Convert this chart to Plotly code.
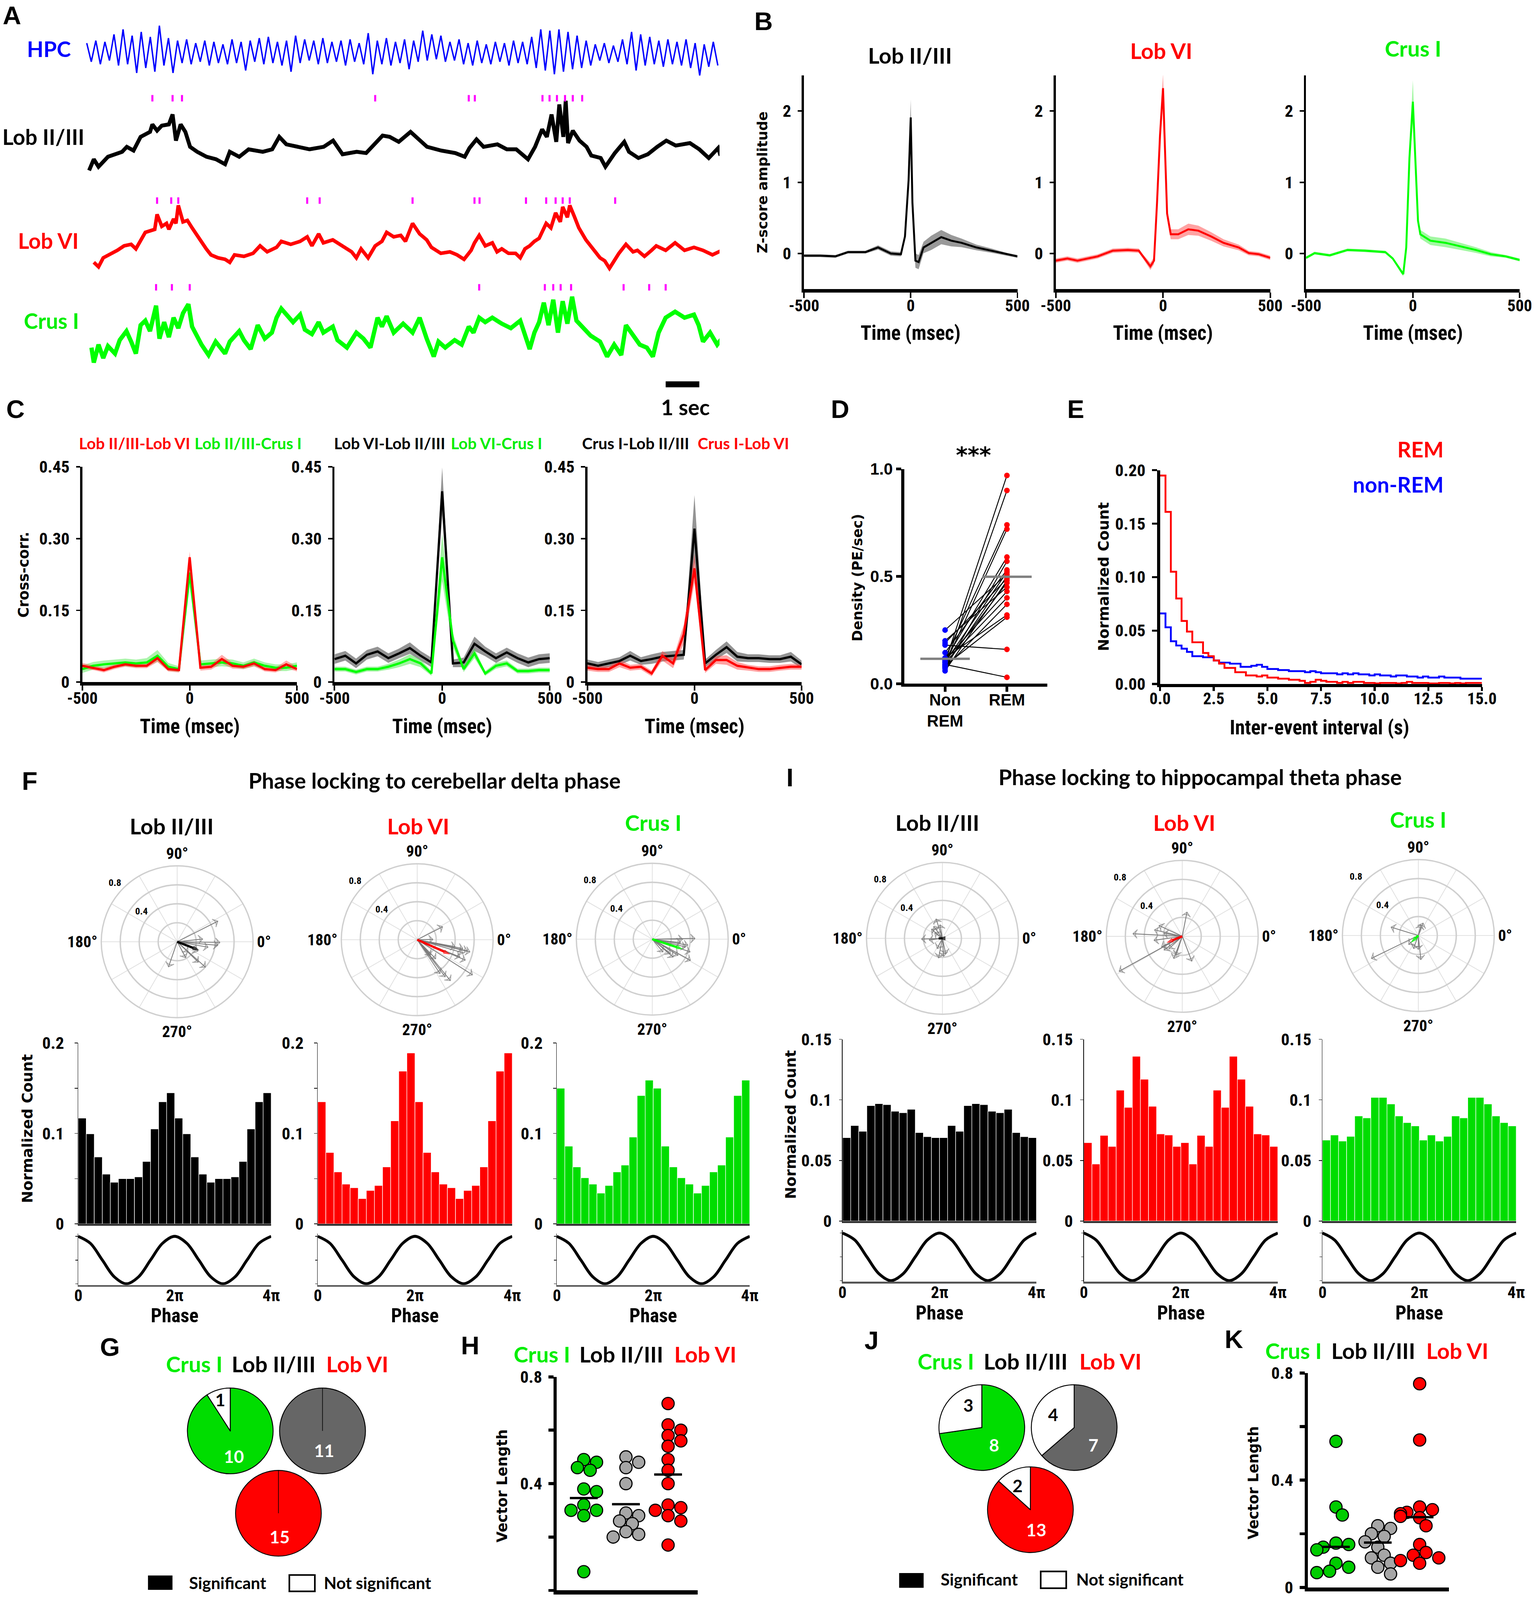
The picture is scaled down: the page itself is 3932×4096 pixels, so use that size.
import numpy as np
import plotly.graph_objects as go

# ====================== DATA ======================
# ---- A: example LFP traces (time in s, amplitude in arbitrary units) ----
HPC_PEAKS = [0.8,1.0,0.9,1.5,1.9,1.4,1.7,1.3,2.2,1.2,1.0,1.1,0.8,1.0,0.9,0.7,1.1,0.9,1.0,1.2,
             1.3,0.9,1.0,1.4,1.1,1.0,1.2,0.9,1.0,1.1,0.8,1.6,1.0,1.2,0.9,1.1,1.0,1.8,1.5,1.4,
             0.9,1.1,0.8,1.0,0.7,0.9,0.8,1.0,0.9,1.3,1.9,1.8,1.9,1.7,1.4,1.0,0.7,0.8,0.6,1.1,
             1.7,1.5,1.3,1.0,1.1,0.9,1.1,0.8,0.7,0.9]
HPC_TROUGHS = [-0.7,-0.9,-0.6,-1.0,-0.9,-1.6,-1.2,-1.5,-1.0,-1.6,-0.8,-0.9,-0.7,-1.0,-0.8,-0.9,-0.8,-1.4,-0.7,-0.9,
               -0.8,-1.0,-1.5,-0.8,-0.6,-0.9,-0.8,-0.7,-1.0,-0.7,-0.9,-1.7,-0.9,-1.0,-0.8,-1.3,-0.7,-0.6,-0.5,-0.7,
               -0.6,-0.9,-1.0,-0.8,-0.9,-0.7,-1.0,-0.8,-0.9,-1.2,-1.4,-1.7,-1.5,-1.3,-1.2,-1.0,-0.6,-0.8,-0.7,-0.9,
               -1.4,-1.0,-0.9,-1.1,-0.9,-1.0,-1.2,-1.8,-1.1,-1.0]
HPC_SECONDS = 18.75

LOB23_T = [0.07,0.21,0.35,0.63,1.05,1.19,1.39,1.60,1.88,1.95,
           2.09,2.23,2.44,2.55,2.65,2.79,2.93,3.07,3.28,3.56,
           3.84,4.11,4.25,4.53,4.81,5.23,5.51,5.72,5.93,6.35,
           6.62,7.04,7.32,7.60,8.02,8.30,8.58,8.79,9.00,9.27,
           9.62,9.83,10.11,10.53,10.95,11.23,11.37,11.58,11.79,12.20,
           12.48,12.76,13.11,13.32,13.53,13.67,13.81,13.95,14.04,14.16,
           14.23,14.30,14.44,14.64,14.85,14.99,15.27,15.41,15.69,15.97,
           16.11,16.39,16.67,16.95,17.22,17.50,17.92,18.20,18.48,18.76,18.83]
LOB23_V = [-1.7,-0.8,-1.4,-0.6,-0.2,0.2,-0.1,1.0,1.4,2.0,
           1.5,1.9,2.0,2.8,0.7,2.0,1.4,0.2,-0.2,-0.6,
           -0.8,-1.2,-0.2,-0.6,0.0,-0.2,0.0,1.0,0.4,0.2,
           0.0,0.2,0.7,-0.4,-0.2,-0.3,0.5,1.1,1.0,0.6,
           1.4,0.9,0.2,-0.1,-0.3,-0.6,0.1,0.8,0.2,0.4,
           0.0,0.0,-0.8,0.2,1.6,1.0,2.8,0.6,3.6,1.0,
           3.9,0.5,1.5,0.7,0.2,-0.5,-0.7,-1.4,-0.3,0.6,
           -0.2,-0.7,-0.4,0.2,0.7,0.3,0.5,0.0,-0.7,0.1,-0.5]

LOBVI_T = [0.21,0.35,0.49,0.77,0.91,1.11,1.32,1.46,1.60,1.74,
           2.02,2.09,2.23,2.37,2.44,2.58,2.65,2.72,2.86,2.99,
           3.13,3.27,3.41,3.55,3.69,3.90,4.11,4.25,4.39,4.67,
           4.94,5.15,5.36,5.64,5.78,6.06,6.34,6.55,6.69,6.89,
           7.03,7.31,7.59,7.87,8.01,8.15,8.36,8.57,8.77,8.91,
           9.12,9.33,9.47,9.68,9.89,10.10,10.24,10.52,10.79,11.00,
           11.21,11.42,11.52,11.66,11.84,12.05,12.19,12.33,12.53,12.74,
           12.88,13.02,13.16,13.30,13.44,13.65,13.79,13.93,14.07,14.14,
           14.28,14.35,14.48,14.62,14.83,15.04,15.25,15.39,15.53,15.67,
           15.81,16.02,16.23,16.36,16.57,16.78,16.92,17.20,17.48,17.76,
           18.04,18.31,18.59,18.87]
LOBVI_V = [-0.8,-1.1,-0.5,-0.2,0.0,0.3,0.4,0.1,0.7,1.2,
           1.4,2.4,1.6,1.8,1.4,2.1,1.8,3.0,1.9,2.0,
           1.5,1.0,0.5,0.1,-0.3,-0.5,-0.6,-0.8,-0.3,-0.4,
           -0.2,0.3,-0.1,0.2,0.6,0.4,0.6,0.9,0.3,1.1,
           0.5,0.7,0.3,-0.1,-0.5,0.1,-0.5,0.3,0.6,1.2,
           0.9,1.0,0.6,1.8,1.1,0.7,0.2,-0.2,-0.1,-0.3,
           -0.6,0.0,0.5,1.0,0.3,0.5,-0.1,0.1,-0.2,-0.2,
           -0.5,0.1,0.3,0.6,0.8,1.8,1.5,2.5,1.9,2.9,
           2.2,3.0,2.3,1.5,0.7,0.1,-0.5,-0.7,-1.2,-0.7,
           -0.2,0.4,-0.1,0.0,-0.4,0.0,0.3,0.0,0.5,0.0,
           0.2,0.0,-0.3,0.0]

CRUS_T = [0.14,0.21,0.35,0.49,0.63,0.84,0.98,1.18,1.32,1.46,
          1.60,1.74,1.88,2.06,2.16,2.30,2.44,2.58,2.72,2.86,
          3.02,3.13,3.27,3.41,3.62,3.83,3.97,4.11,4.25,4.53,
          4.67,4.87,5.08,5.29,5.50,5.64,5.78,5.92,6.13,6.34,
          6.48,6.69,6.89,7.03,7.31,7.45,7.73,8.01,8.22,8.43,
          8.64,8.77,8.91,9.12,9.40,9.68,9.89,10.10,10.31,10.45,
          10.65,10.93,11.14,11.35,11.49,11.66,11.84,12.05,12.33,12.60,
          12.88,13.16,13.30,13.44,13.58,13.72,13.86,14.00,14.14,14.28,
          14.42,14.55,14.76,14.97,15.25,15.46,15.67,15.88,16.02,16.23,
          16.43,16.64,16.82,16.99,17.20,17.48,17.76,18.04,18.18,18.31,
          18.52,18.73,18.87]
CRUS_V = [-1.0,-2.0,-0.8,-1.7,-0.9,-1.4,-0.5,0.1,-0.6,-1.4,
          0.5,0.8,0.1,1.8,-0.4,0.7,-0.3,1.0,0.3,1.3,
          1.9,0.4,-0.2,-0.8,-1.5,-0.6,-1.0,-1.4,-0.6,0.1,
          -0.5,-1.1,0.5,-0.4,0.0,1.0,1.6,1.2,0.7,1.2,
          0.2,-0.1,0.7,0.0,0.4,-0.5,-1.0,0.0,-0.4,-1.0,
          1.0,0.4,1.1,0.0,0.6,0.0,1.0,-0.4,-1.6,-0.6,
          -1.0,-0.5,-0.8,0.4,0.0,1.0,0.7,1.0,0.6,0.3,
          0.8,-1.1,0.0,0.7,2.0,0.5,2.2,0.0,2.1,0.6,
          2.4,0.8,0.3,-0.2,-0.6,-1.6,-0.8,-1.5,0.5,-0.2,
          -0.8,-1.0,-1.6,0.0,1.0,1.4,1.0,1.2,0.5,-0.6,
          0.0,-0.8,-0.4]

LOB23_EVENTS = [1.95,2.55,2.83,8.57,11.35,11.53,13.54,13.75,13.97,14.21,14.44,14.72]
LOBVI_EVENTS = [2.09,2.51,2.72,6.55,6.92,9.68,11.52,11.67,13.05,13.65,13.93,14.14,14.35,15.70]
CRUS_EVENTS = [2.06,2.53,3.06,11.66,13.61,13.86,14.08,14.39,15.95,16.71,17.20]

# ---- B: event-triggered average (ms, z-score) ----
B_LOB23_T = [-500,-424,-353,-294,-212,-153,-93,-46,-27,-10,0,8,22,37,60,96,143,190,238,308,379,450,500]
B_LOB23_M = [-0.03,-0.03,-0.04,0.02,0.02,0.085,0.0,-0.01,0.24,1.03,1.91,0.71,-0.10,-0.12,0.085,0.15,0.23,0.18,0.15,0.085,0.04,-0.01,-0.04]
B_LOB23_E = [0.02,0.02,0.02,0.02,0.02,0.03,0.03,0.03,0.05,0.10,0.25,0.10,0.10,0.10,0.08,0.10,0.10,0.08,0.06,0.04,0.03,0.02,0.02]
B_LOBVI_T = [-500,-446,-399,-305,-234,-164,-113,-94,-59,-42,-28,-14,0,7,19,36,71,118,165,224,282,353,400,447,500]
B_LOBVI_M = [-0.10,-0.07,-0.10,-0.04,0.04,0.05,0.04,-0.04,-0.18,-0.10,0.71,1.66,2.32,1.66,0.56,0.27,0.27,0.34,0.32,0.24,0.15,0.085,0.006,-0.01,-0.06]
B_LOBVI_E = [0.03,0.03,0.03,0.03,0.03,0.03,0.03,0.03,0.05,0.05,0.10,0.15,0.20,0.12,0.08,0.07,0.07,0.08,0.07,0.06,0.05,0.04,0.03,0.03,0.03]
B_CRUS_T = [-500,-460,-389,-306,-224,-129,-94,-59,-45,-31,-16,0,12,24,35,82,153,224,294,365,435,500]
B_CRUS_M = [-0.06,0.006,-0.025,0.05,0.04,0.02,-0.07,-0.23,-0.29,0.085,1.34,2.13,1.34,0.46,0.27,0.18,0.15,0.10,0.05,-0.01,-0.04,-0.09]
B_CRUS_E = [0.02,0.02,0.02,0.02,0.02,0.02,0.02,0.03,0.03,0.05,0.10,0.30,0.10,0.07,0.06,0.06,0.06,0.05,0.04,0.03,0.02,0.02]

# ---- C: cross-correlations ----
C_LAGS = [-500,-450,-400,-350,-300,-250,-200,-150,-100,-50,0,50,100,150,200,250,300,350,400,450,500]
C1_RED = [0.034,0.030,0.025,0.032,0.037,0.034,0.034,0.050,0.027,0.025,0.261,0.030,0.032,0.048,0.034,0.032,0.039,0.027,0.025,0.037,0.027]
C1_RED_E = [0.006,0.005,0.005,0.005,0.005,0.005,0.005,0.008,0.005,0.005,0.012,0.006,0.006,0.009,0.006,0.005,0.006,0.005,0.005,0.008,0.005]
C1_GRN = [0.027,0.034,0.037,0.039,0.041,0.039,0.041,0.055,0.032,0.027,0.229,0.037,0.039,0.041,0.039,0.034,0.041,0.034,0.030,0.030,0.034]
C1_GRN_E = [0.008,0.008,0.008,0.008,0.008,0.008,0.009,0.012,0.008,0.006,0.030,0.008,0.008,0.008,0.008,0.007,0.008,0.007,0.007,0.007,0.007]
C2_BLK = [0.048,0.055,0.039,0.057,0.064,0.050,0.060,0.071,0.055,0.041,0.399,0.039,0.041,0.080,0.064,0.050,0.062,0.050,0.041,0.048,0.050]
C2_BLK_E = [0.010,0.010,0.010,0.010,0.010,0.010,0.010,0.012,0.010,0.010,0.050,0.008,0.010,0.015,0.010,0.010,0.010,0.010,0.010,0.010,0.010]
C2_GRN = [0.027,0.027,0.021,0.027,0.027,0.032,0.039,0.048,0.039,0.018,0.261,0.087,0.027,0.060,0.018,0.034,0.039,0.023,0.023,0.025,0.025]
C2_GRN_E = [0.005,0.005,0.005,0.005,0.005,0.006,0.008,0.010,0.008,0.005,0.050,0.015,0.006,0.010,0.005,0.006,0.006,0.005,0.005,0.005,0.005]
C3_BLK = [0.039,0.034,0.039,0.044,0.055,0.044,0.048,0.053,0.055,0.057,0.321,0.039,0.057,0.073,0.053,0.050,0.050,0.048,0.048,0.053,0.037]
C3_BLK_E = [0.008,0.008,0.008,0.008,0.010,0.008,0.010,0.010,0.010,0.010,0.070,0.008,0.010,0.012,0.010,0.008,0.008,0.008,0.008,0.010,0.008]
C3_RED = [0.030,0.027,0.027,0.039,0.030,0.032,0.018,0.055,0.039,0.100,0.238,0.025,0.046,0.046,0.034,0.030,0.027,0.027,0.030,0.032,0.032]
C3_RED_E = [0.006,0.006,0.006,0.008,0.006,0.006,0.006,0.010,0.010,0.020,0.030,0.006,0.008,0.010,0.008,0.006,0.006,0.006,0.006,0.006,0.006]

# ---- D: PE density, paired ----
D_NREM = [0.10,0.08,0.12,0.09,0.11,0.07,0.145,0.10,0.25,0.08,0.19,0.06,0.09,0.20,0.11,0.10,0.075,0.12,0.085,0.18,0.09]
D_REM = [0.97,0.90,0.74,0.72,0.59,0.57,0.53,0.52,0.51,0.50,0.49,0.48,0.47,0.45,0.43,0.40,0.37,0.32,0.31,0.16,0.03]

# ---- E: inter-event interval histograms (0.25 s bins) ----
E_BIN_WIDTH = 0.25
E_REM = [0.195,0.161,0.105,0.080,0.059,0.049,0.039,0.039,0.029,0.026,
         0.022,0.019,0.015,0.015,0.011,0.011,0.008,0.008,0.007,0.008,
         0.006,0.006,0.005,0.005,0.004,0.004,0.003,0.001,0.002,0.004,
         0.003,0.002,0.002,0.001,0.002,0.001,0.002,0.002,0.001,0.001,
         0.0005,0.001,0.001,0.001,0.0005,0.001,0.002,0.001,0.001,0.001,
         0.0005,0.0005,0.001,0.001,0.0005,0.001,0.0005,0.001,0.001,0.001]
E_NREM = [0.066,0.053,0.040,0.036,0.033,0.030,0.026,0.026,0.025,0.025,
          0.022,0.020,0.020,0.019,0.019,0.016,0.016,0.017,0.018,0.016,
          0.014,0.014,0.013,0.013,0.012,0.012,0.012,0.011,0.012,0.011,
          0.010,0.010,0.010,0.009,0.010,0.009,0.010,0.009,0.009,0.008,
          0.009,0.008,0.008,0.007,0.008,0.008,0.007,0.007,0.006,0.007,
          0.006,0.006,0.007,0.006,0.006,0.006,0.005,0.005,0.005,0.005]

# ---- F / I: phase vectors (deg, length) and phase histograms (12 bins of 30 deg) ----
F_LOB23_ANG = [26.8,6,-5,-1,-24,-42,-44,-62,-109,-43,-10]
F_LOB23_LEN = [0.48,0.27,0.43,0.45,0.24,0.40,0.31,0.19,0.28,0.155,0.33]
F_LOB23_MEAN = [-21,0.25]
F_LOBVI_ANG = [27,1,-13,-12.5,-11,-22,-23,-32.5,-51,-53,-56,-46,-10.5,-49,-16]
F_LOBVI_LEN = [0.30,0.165,0.57,0.54,0.49,0.485,0.55,0.69,0.555,0.49,0.43,0.28,0.405,0.215,0.50]
F_LOBVI_MEAN = [-24,0.38]
F_CRUS_ANG = [1,0,-9.5,-18.5,-29,-40.6,-38.5,-32,-13,-7,-50]
F_CRUS_LEN = [0.45,0.32,0.38,0.42,0.46,0.29,0.245,0.32,0.36,0.30,0.175]
F_CRUS_MEAN = [-18,0.34]

I_LOB23_ANG = [108,126,140,182,-101,-86,-117,100,-78,143,187]
I_LOB23_LEN = [0.215,0.155,0.15,0.22,0.21,0.19,0.12,0.145,0.165,0.10,0.14]
I_LOB23_MEAN = [180,0.04]
I_LOBVI_ANG = [79,177,-151,167,155,171,-111,-69,-143,-137,-172,-153,-108]
I_LOBVI_LEN = [0.26,0.52,0.76,0.30,0.27,0.195,0.25,0.28,0.24,0.19,0.30,0.245,0.21]
I_LOBVI_MEAN = [-158,0.18]
I_CRUS_ANG = [163,-154,69,-84,-110,-90,-137,77]
I_CRUS_LEN = [0.30,0.55,0.14,0.255,0.146,0.146,0.138,0.115]
I_CRUS_MEAN = [-136,0.11]

F_LOB23_HIST = [0.117,0.0996,0.074,0.055,0.046,0.050,0.050,0.052,0.069,0.105,0.135,0.145]
F_LOBVI_HIST = [0.135,0.079,0.0575,0.044,0.040,0.028,0.037,0.0425,0.063,0.114,0.169,0.189]
F_CRUS_HIST = [0.150,0.086,0.063,0.051,0.044,0.034,0.0425,0.0575,0.065,0.096,0.142,0.159]
I_LOB23_HIST = [0.0688,0.0788,0.0741,0.0953,0.0969,0.0961,0.0906,0.0894,0.0922,0.0730,0.0696,0.0688]
I_LOBVI_HIST = [0.0647,0.0471,0.0707,0.0616,0.108,0.0938,0.136,0.117,0.0947,0.0719,0.0710,0.0616]
I_CRUS_HIST = [0.0668,0.0710,0.066,0.0699,0.0867,0.0851,0.102,0.102,0.0966,0.0867,0.0812,0.0785]

SINE_REF = [1,0.71,0,-0.71,-1,-0.71,0,0.71,1,0.71,0,-0.71,-1,-0.71,0,0.71,1]
PHASE_TICKS = ['0', '2π', '4π']

# ---- G / J: significant vs not significant counts (Crus I, Lob II/III, Lob VI) ----
G_SIG = [10,11,15]
G_NS = [1,0,0]
J_SIG = [8,7,13]
J_NS = [3,4,2]

# ---- H / K: vector lengths (Crus I, Lob II/III, Lob VI) ----
H_CRUS = [0.49,0.48,0.46,0.45,0.38,0.37,0.32,0.30,0.30,0.28,0.07]
H_LOB23 = [0.50,0.48,0.46,0.40,0.29,0.28,0.26,0.25,0.22,0.21,0.20]
H_LOBVI = [0.70,0.62,0.60,0.58,0.56,0.54,0.49,0.45,0.40,0.32,0.31,0.30,0.28,0.26,0.17]
H_MEAN = [0.346,0.323,0.434]
K_CRUS = [0.545,0.30,0.27,0.165,0.16,0.15,0.14,0.09,0.075,0.06,0.055]
K_LOB23 = [0.23,0.22,0.20,0.19,0.17,0.15,0.12,0.11,0.09,0.075,0.05]
K_LOBVI = [0.76,0.55,0.30,0.29,0.28,0.275,0.265,0.26,0.23,0.16,0.13,0.12,0.11,0.10,0.09]
K_MEAN = [0.151,0.167,0.262]

# ====================== STYLE / LAYOUT HELPERS ======================
W, H = 3932, 4096
SW, SH = 1505.0, 1568.0
KF = W / SW


def px(x):
    return x / SW


def py(y):
    return 1 - y / SH


def f(s):
    return s * KF


CAL = "Lato, 'Open Sans', sans-serif"
NAR = "'Liberation Sans Narrow', 'Roboto Condensed', 'Liberation Sans', sans-serif"
ARI = "'Liberation Sans', Arial, sans-serif"
WIDE = "'DejaVu Sans', Verdana, sans-serif"

RED = '#ff0000'
LGREEN = '#00ff00'
TGREEN = '#00ee00'
DGREEN = '#00dd00'
BLUE = '#0000ff'
MAG = '#ff00ff'
ARROW_GREY = '#7a7a7a'
GRID = '#cfcfcf'

TICKFONT = dict(family=NAR, size=f(16.5), color='black', weight='bold')
XTICKFONT = dict(family=NAR, size=f(16), color='black', weight='bold')
XUP = -int(round(f(6)))      # pull x tick labels closer to the axis
YOUT = int(round(f(3)))      # push y tick labels a little further out

fig = go.Figure()
layout = dict(width=W, height=H,
              margin=dict(l=0, r=0, t=0, b=0, pad=0, autoexpand=False),
              paper_bgcolor='white', plot_bgcolor='white', showlegend=False)
annotations = []
shapes = []


def ann(text, x, y, size, color='black', family=CAL, angle=0, bold=True, xanchor='center'):
    annotations.append(dict(text=text, x=px(x), y=py(y), xref='paper', yref='paper', showarrow=False,
                            font=dict(family=family, size=f(size), color=color,
                                      weight='bold' if bold else 'normal'),
                            textangle=angle, xanchor=xanchor, yanchor='middle'))


axes_n = [0]


def add_axes(x0, x1, ytop, ybot, xa, ya):
    axes_n[0] += 1
    n = axes_n[0]
    s = '' if n == 1 else str(n)
    base = dict(showgrid=False, zeroline=False, fixedrange=True, automargin=False)
    xd = dict(base)
    xd.update(xa)
    xd.update(domain=[px(x0), px(x1)], anchor='y' + s)
    yd = dict(base)
    yd.update(ya)
    yd.update(domain=[py(ybot), py(ytop)], anchor='x' + s)
    layout['xaxis' + s] = xd
    layout['yaxis' + s] = yd
    return 'x' + s, 'y' + s


HID = dict(visible=False)

# ====================== PANEL A ======================
TR = [-0.03, 18.8]
ax = add_axes(84, 705, 22, 82, dict(HID, range=TR), dict(HID, range=[-2.46, 2.46]))
n_hpc = 2 * len(HPC_PEAKS)
hpc_t = np.arange(n_hpc) * HPC_SECONDS / (n_hpc - 1)
hpc_v = np.empty(n_hpc)
hpc_v[0::2] = HPC_PEAKS
hpc_v[1::2] = HPC_TROUGHS
fig.add_trace(go.Scatter(x=hpc_t, y=hpc_v, mode='lines', line=dict(color=BLUE, width=f(1.4)),
                         xaxis=ax[0], yaxis=ax[1]))

trace_specs = [
    (LOB23_T, LOB23_V, LOB23_EVENTS, 'black', (88, 175), [-2.35, 4.78], 4.10, 3.8),
    (LOBVI_T, LOBVI_V, LOBVI_EVENTS, RED, (170, 275), [-2.02, 5.13], 3.32, 3.5),
    (CRUS_T, CRUS_V, CRUS_EVENTS, LGREEN, (272, 365), [-2.66, 3.68], 3.03, 4.2),
]
crus_axes = None
for T, V, EV, col, (yt, yb), yr, lvl, lw in trace_specs:
    ax = add_axes(84, 705, yt, yb, dict(HID, range=TR), dict(HID, range=yr))
    fig.add_trace(go.Scatter(x=T, y=V, mode='lines', line=dict(color=col, width=f(lw)),
                             xaxis=ax[0], yaxis=ax[1]))
    fig.add_trace(go.Scatter(x=EV, y=[lvl] * len(EV), mode='markers',
                             marker=dict(symbol='line-ns', size=f(4.5), line=dict(color=MAG, width=f(2))),
                             xaxis=ax[0], yaxis=ax[1]))
    crus_axes = ax

# scale bar 1 s
shapes.append(dict(type='rect', xref=crus_axes[0], yref='paper', x0=17.2, x1=17.2 + 1.0,
                   y0=py(379.6), y1=py(373.7), fillcolor='black', line=dict(width=0)))
ann('1 sec', 671.5, 399, 21)
ann('A', 11.5, 15, 25, family=ARI)
ann('HPC', 48.2, 48, 21, color=BLUE)
ann('Lob II/III', 42.3, 134, 21)
ann('Lob VI', 47.3, 235.7, 21, color=RED)
ann('Crus I', 50.5, 314.3, 21, color=TGREEN)

# ====================== PANEL B ======================
ann('B', 748, 21, 25, family=ARI)
b_specs = [
    (787.8, 996.9, 'Lob II/III', 'black', 891.6, 54, B_LOB23_T, B_LOB23_M, B_LOB23_E, 'black', 'rgba(70,70,70,0.55)'),
    (1034.5, 1244.6, 'Lob VI', RED, 1137.8, 49.6, B_LOBVI_T, B_LOBVI_M, B_LOBVI_E, RED, 'rgba(255,70,70,0.5)'),
    (1279.7, 1489, 'Crus I', TGREEN, 1384.6, 47.4, B_CRUS_T, B_CRUS_M, B_CRUS_E, LGREEN, 'rgba(70,240,70,0.5)'),
]
for x0, x1, title, tcol, tx, ty, T, M, E, lcol, fcol in b_specs:
    ax = add_axes(x0, x1, 73.8, 283.4,
                  dict(range=[-500, 500], showline=True, linecolor='black', linewidth=f(3.5),
                       ticks='outside', ticklen=f(5), tickwidth=f(1.5), tickcolor='black',
                       tickvals=[-500, 0, 500], ticktext=['-500', '0', '500'], tickfont=XTICKFONT,
                       ticklabelstandoff=XUP, ticklabeloverflow='allow'),
                  dict(range=[-0.5, 2.5], showline=True, linecolor='black', linewidth=f(2.2),
                       ticks='outside', ticklen=f(4), tickwidth=f(1.5), tickcolor='black',
                       tickvals=[0, 1, 2], tickfont=TICKFONT, ticklabelstandoff=YOUT))
    M = np.array(M)
    E = np.array(E)
    fig.add_trace(go.Scatter(x=T, y=M - E, mode='lines', line=dict(width=0), xaxis=ax[0], yaxis=ax[1]))
    fig.add_trace(go.Scatter(x=T, y=M + E, mode='lines', line=dict(width=0), fill='tonexty',
                             fillcolor=fcol, xaxis=ax[0], yaxis=ax[1]))
    fig.add_trace(go.Scatter(x=T, y=M, mode='lines', line=dict(color=lcol, width=f(1.9)),
                             xaxis=ax[0], yaxis=ax[1]))
    ann(title, tx, ty, 21.5, color=tcol)
    ann('Time (msec)', (x0 + x1) / 2, 326.2, 19.5, family=NAR)
ann('Z-score amplitude', 746.7, 178.5, 13.6, family=WIDE, angle=-90)

# ====================== PANEL C ======================
ann('C', 15.3, 401, 25, family=ARI)
c_specs = [
    (80.7, 291, [(C1_GRN, C1_GRN_E, LGREEN, 'rgba(70,230,70,0.45)'), (C1_RED, C1_RED_E, RED, 'rgba(255,70,70,0.45)')]),
    (327.8, 538.7, [(C2_BLK, C2_BLK_E, 'black', 'rgba(60,60,60,0.55)'), (C2_GRN, C2_GRN_E, LGREEN, 'rgba(70,230,70,0.5)')]),
    (575.5, 785.4, [(C3_BLK, C3_BLK_E, 'black', 'rgba(60,60,60,0.55)'), (C3_RED, C3_RED_E, RED, 'rgba(255,70,70,0.5)')]),
]
for x0, x1, series in c_specs:
    ax = add_axes(x0, x1, 457.6, 668.4,
                  dict(range=[-500, 500], showline=True, linecolor='black', linewidth=f(3.5),
                       ticks='outside', ticklen=f(5), tickwidth=f(1.5), tickcolor='black',
                       tickvals=[-500, 0, 500], ticktext=['-500', '0', '500'], tickfont=XTICKFONT,
                       ticklabelstandoff=XUP),
                  dict(range=[0, 0.45], showline=True, linecolor='black', linewidth=f(2.2),
                       ticks='outside', ticklen=f(4), tickwidth=f(1.5), tickcolor='black',
                       tickvals=[0, 0.15, 0.30, 0.45], ticktext=['0', '0.15', '0.30', '0.45'],
                       tickfont=TICKFONT, ticklabelstandoff=YOUT))
    for M, E, lcol, fcol in series:
        M = np.array(M)
        E = np.array(E)
        fig.add_trace(go.Scatter(x=C_LAGS, y=M - E, mode='lines', line=dict(width=0), xaxis=ax[0], yaxis=ax[1]))
        fig.add_trace(go.Scatter(x=C_LAGS, y=M + E, mode='lines', line=dict(width=0), fill='tonexty',
                                 fillcolor=fcol, xaxis=ax[0], yaxis=ax[1]))
    for M, E, lcol, fcol in series:
        fig.add_trace(go.Scatter(x=C_LAGS, y=M, mode='lines', line=dict(color=lcol, width=f(2.2)),
                                 xaxis=ax[0], yaxis=ax[1]))
    ann('Time (msec)', (x0 + x1) / 2, 712, 19.5, family=NAR)
ann('Lob II/III-Lob VI', 187, 434.4, 15.5, color=RED, xanchor='right')
ann('Lob II/III-Crus I', 190, 434.4, 15.5, color=TGREEN, xanchor='left')
ann('Lob VI-Lob II/III', 437, 434.4, 15.5, xanchor='right')
ann('Lob VI-Crus I', 441, 434.4, 15.5, color=TGREEN, xanchor='left')
ann('Crus I-Lob II/III', 676, 434.4, 15.5, xanchor='right')
ann('Crus I-Lob VI', 683, 434.4, 15.5, color=RED, xanchor='left')
ann('Cross-corr.', 23, 563.2, 14, family=WIDE, angle=-90)

# ====================== PANEL D ======================
ann('D', 823, 401, 25, family=ARI)
DFONT = dict(family=ARI, size=f(16), color='black', weight='bold')
ax = add_axes(886, 1026, 459.6, 670.1,
              dict(range=[-0.66, 1.65], showline=True, linecolor='black', linewidth=f(3),
                   ticks='outside', ticklen=f(5), tickwidth=f(2.5), tickcolor='black',
                   tickvals=[0, 1], ticktext=['Non<br>REM', 'REM'], tickfont=DFONT,
                   ticklabelstandoff=XUP),
              dict(range=[0, 1.0], showline=True, linecolor='black', linewidth=f(3),
                   ticks='outside', ticklen=f(5), tickwidth=f(2.5), tickcolor='black',
                   tickvals=[0, 0.5, 1.0], ticktext=['0.0', '0.5', '1.0'], tickfont=DFONT))
for a, b in zip(D_NREM, D_REM):
    fig.add_trace(go.Scatter(x=[0, 1], y=[a, b], mode='lines', line=dict(color='black', width=f(0.9)),
                             xaxis=ax[0], yaxis=ax[1]))
fig.add_trace(go.Scatter(x=[0] * len(D_NREM), y=D_NREM, mode='markers',
                         marker=dict(color=BLUE, size=f(5.5)), xaxis=ax[0], yaxis=ax[1]))
fig.add_trace(go.Scatter(x=[1] * len(D_REM), y=D_REM, mode='markers',
                         marker=dict(color=RED, size=f(5.5)), xaxis=ax[0], yaxis=ax[1]))
for i, vals in enumerate([D_NREM, D_REM]):
    m = float(np.mean(vals))
    fig.add_trace(go.Scatter(x=[i - 0.4, i + 0.4], y=[m, m], mode='lines',
                             line=dict(color='#7f7f7f', width=f(2.3)), xaxis=ax[0], yaxis=ax[1]))
ann('***', 954, 446, 22, family=WIDE)
ann('Density (PE/sec)', 840, 566, 13.6, family=WIDE, angle=-90)

# ====================== PANEL E ======================
ann('E', 1054, 401, 25, family=ARI)
ax = add_axes(1136.7, 1452, 460.8, 670.3,
              dict(range=[0, 15], showline=True, linecolor='black', linewidth=f(3),
                   ticks='outside', ticklen=f(4), tickwidth=f(2), tickcolor='black',
                   tickvals=[0, 2.5, 5, 7.5, 10, 12.5, 15],
                   ticktext=['0.0', '2.5', '5.0', '7.5', '10.0', '12.5', '15.0'], tickfont=XTICKFONT,
                   ticklabelstandoff=XUP),
              dict(range=[0, 0.2], showline=True, linecolor='black', linewidth=f(3),
                   ticks='outside', ticklen=f(5), tickwidth=f(2), tickcolor='black',
                   tickvals=[0, 0.05, 0.10, 0.15, 0.20],
                   ticktext=['0.00', '0.05', '0.10', '0.15', '0.20'], tickfont=TICKFONT,
                   ticklabelstandoff=YOUT))
for vals, col in [(E_NREM, BLUE), (E_REM, RED)]:
    edges = np.arange(len(vals) + 1) * E_BIN_WIDTH
    yv = list(vals) + [vals[-1]]
    fig.add_trace(go.Scatter(x=edges, y=yv, mode='lines', line=dict(color=col, width=f(1.8), shape='hv'),
                             xaxis=ax[0], yaxis=ax[1]))
ann('REM', 1392, 440.3, 21, color=RED)
ann('non-REM', 1370, 474.8, 21, color=BLUE)
ann('Normalized Count', 1081, 565.3, 14.5, family=WIDE, angle=-90)
ann('Inter-event interval (s)', 1293, 713, 19.5, family=NAR)

# ====================== PANELS F / I ======================
polar_n = [0]
ANG_TEXT = ['0°', '', '', '90°', '', '', '180°', '', '', '270°', '', '']
PR = 74.4


def add_polar(cx, cy):
    polar_n[0] += 1
    key = 'polar' if polar_n[0] == 1 else 'polar%d' % polar_n[0]
    layout[key] = dict(
        domain=dict(x=[px(cx - PR), px(cx + PR)], y=[py(cy + PR), py(cy - PR)]),
        bgcolor='white',
        radialaxis=dict(range=[0, 0.8], tickvals=[0.2, 0.4, 0.6], showticklabels=False, ticks='',
                        showline=False, gridcolor=GRID, gridwidth=f(1.4)),
        angularaxis=dict(tickvals=list(range(0, 360, 30)), ticktext=ANG_TEXT, ticks='',
                         showline=True, linecolor=GRID, linewidth=f(1.3),
                         gridcolor='#dedede', gridwidth=f(0.7), rotation=0, direction='counterclockwise',
                         tickfont=dict(family=NAR, size=f(15.5), color='black', weight='bold')))
    ann('0.8', cx - 61, cy - 58, 9.5, family=NAR)
    ann('0.4', cx - 35, cy - 30, 9.5, family=NAR)
    return key


def polar_arrows(key, angs, lens, mean, mcol):
    for a, r in zip(angs, lens):
        fig.add_trace(go.Scatterpolar(
            r=[0, r], theta=[a, a], mode='lines+markers', subplot=key,
            line=dict(color=ARROW_GREY, width=f(0.8)),
            marker=dict(symbol=['circle', 'arrow-wide-open'], size=[0, f(6)], angleref='previous',
                        color=ARROW_GREY, line=dict(color=ARROW_GREY, width=f(0.8)))))
    a, r = mean
    fig.add_trace(go.Scatterpolar(
        r=[0, r], theta=[a, a], mode='lines+markers', subplot=key,
        line=dict(color=mcol, width=f(2.2)),
        marker=dict(symbol=['circle', 'arrow'], size=[0, f(7)], angleref='previous',
                    color=mcol, line=dict(width=0))))


SINE_PHASE = [k * np.pi / 4 for k in range(len(SINE_REF))]


def hist_block(x0, x1, htop, hbot, stop, sbot, tick_y, vals12, col, yr, ytv, ytt, ystand):
    ax = add_axes(x0, x1, htop, hbot,
                  dict(range=[0, 4 * np.pi], showline=True, linecolor='#333333', linewidth=f(1.8),
                       showticklabels=False, ticks=''),
                  dict(range=yr, showline=True, linecolor='black', linewidth=f(0.6),
                       ticks='outside', ticklen=f(3), tickwidth=f(0.6), tickcolor='black',
                       tickvals=ytv, ticktext=ytt, tickfont=TICKFONT, ticklabelstandoff=ystand))
    vals = list(vals12) + list(vals12)
    centers = (np.arange(len(vals)) + 0.5) * np.pi / 6
    fig.add_trace(go.Bar(x=centers, y=vals, width=np.pi / 6,
                         marker=dict(color=col, line=dict(color='white', width=f(0.5))),
                         xaxis=ax[0], yaxis=ax[1]))
    unit = (sbot - stop) / 2.0
    ax2 = add_axes(x0, x1, stop - 0.12 * unit, sbot + 0.05 * unit,
                   dict(range=[0, 4 * np.pi], showline=True, linecolor='#555555', linewidth=f(1.8),
                        showticklabels=False, ticks=''),
                   dict(range=[-1.05, 1.12], showline=True, linecolor='black', linewidth=f(0.6),
                        ticks='outside', ticklen=f(2), tickwidth=f(0.6), tickcolor='black',
                        tickvals=[-1, 0, 1], showticklabels=False))
    fig.add_trace(go.Scatter(x=SINE_PHASE, y=SINE_REF, mode='lines',
                             line=dict(color='black', width=f(2.8), shape='spline'),
                             xaxis=ax2[0], yaxis=ax2[1]))
    for frac, lab in zip([0.0, 0.5, 1.0], PHASE_TICKS):
        ann(lab, x0 + frac * (x1 - x0), tick_y, 16, family=NAR)
    ann('Phase', (x0 + x1) / 2, tick_y + 20, 19, family=NAR)


# F: cerebellar delta
ann('F', 29, 765.4, 25, family=ARI)
ann('Phase locking to cerebellar delta phase', 425.8, 764.5, 21.2)
f_specs = [
    (173.6, 922.9, 168.3, 809.6, 'Lob II/III', 'black', F_LOB23_ANG, F_LOB23_LEN, F_LOB23_MEAN, 'black',
     76.6, 265.7, F_LOB23_HIST, 'black'),
    (408.8, 920.9, 409.8, 809.6, 'Lob VI', RED, F_LOBVI_ANG, F_LOBVI_LEN, F_LOBVI_MEAN, RED,
     311.3, 501.9, F_LOBVI_HIST, RED),
    (639.1, 920.4, 640, 806, 'Crus I', TGREEN, F_CRUS_ANG, F_CRUS_LEN, F_CRUS_MEAN, LGREEN,
     545.5, 734.6, F_CRUS_HIST, DGREEN),
]
for cx, cy, tx, ty, title, tcol, angs, lens, mean, mcol, hx0, hx1, hv, hcol in f_specs:
    key = add_polar(cx, cy)
    polar_arrows(key, angs, lens, mean, mcol)
    ann(title, tx, ty, 21.5, color=tcol)
    hist_block(hx0, hx1, 1022.2, 1199.4, 1211.6, 1258.1, 1269.5, hv, hcol, [0, 0.2],
               [0, 0.05, 0.1, 0.15, 0.2], ['0', '', '0.1', '', '0.2'], int(round(f(7))))
ann('Normalized Count', 26.7, 1106, 14.5, family=WIDE, angle=-90)

# I: hippocampal theta
ann('I', 773.8, 762, 25, family=ARI)
ann('Phase locking to hippocampal theta phase', 1176, 761.2, 21.2)
i_specs = [
    (923.4, 919.6, 918.6, 806, 'Lob II/III', 'black', I_LOB23_ANG, I_LOB23_LEN, I_LOB23_MEAN, 'black',
     825.6, 1015.5, I_LOB23_HIST, 'black'),
    (1158.4, 917.6, 1160.4, 806, 'Lob VI', RED, I_LOBVI_ANG, I_LOBVI_LEN, I_LOBVI_MEAN, RED,
     1062, 1252, I_LOBVI_HIST, RED),
    (1389.7, 916.8, 1389.7, 802.9, 'Crus I', TGREEN, I_CRUS_ANG, I_CRUS_LEN, I_CRUS_MEAN, LGREEN,
     1295.7, 1485.6, I_CRUS_HIST, DGREEN),
]
for cx, cy, tx, ty, title, tcol, angs, lens, mean, mcol, hx0, hx1, hv, hcol in i_specs:
    key = add_polar(cx, cy)
    polar_arrows(key, angs, lens, mean, mcol)
    ann(title, tx, ty, 21.5, color=tcol)
    hist_block(hx0, hx1, 1018.5, 1196.6, 1208.4, 1255, 1266.5, hv, hcol, [0, 0.15],
               [0, 0.05, 0.1, 0.15], ['0', '0.05', '0.1', '0.15'], int(round(f(4))))
ann('Normalized Count', 774.8, 1102.3, 14.5, family=WIDE, angle=-90)

# ====================== PANELS G / J (pies) ======================
PIE_R = 42
PIE_COLORS = [DGREEN, '#666666', RED]


def pie_group(centers, sig, ns, labels):
    for (cx, cy), s, n, c in zip(centers, sig, ns, PIE_COLORS):
        vals = [s, n] if n > 0 else [s]
        cols = [c, 'white'] if n > 0 else [c]
        fig.add_trace(go.Pie(values=vals, marker=dict(colors=cols, line=dict(color='black', width=f(0.9))),
                             domain=dict(x=[px(cx - PIE_R), px(cx + PIE_R)], y=[py(cy + PIE_R), py(cy - PIE_R)]),
                             sort=False, direction='clockwise', rotation=0, textinfo='none',
                             hoverinfo='skip', showlegend=False))
        if n == 0:
            shapes.append(dict(type='line', xref='paper', yref='paper', x0=px(cx), x1=px(cx),
                               y0=py(cy), y1=py(cy - PIE_R), line=dict(color='black', width=f(0.6))))
    for text, x, y, col in labels:
        ann(text, x, y, 17, color=col)


ann('G', 107.6, 1320.3, 25, family=ARI)
ann('Crus I', 190.6, 1336.5, 21.5, color=TGREEN)
ann('Lob II/III', 268, 1336.5, 21.5)
ann('Lob VI', 350, 1336.5, 21.5, color=RED)
pie_group([(225.6, 1402.3), (316, 1402.3), (272.8, 1483)], G_SIG, G_NS,
          [('1', 215.8, 1371.6, 'black'), ('10', 229.4, 1427, 'white'),
           ('11', 317.6, 1421, 'white'), ('15', 274, 1505.7, 'white')])

ann('J', 854, 1313.5, 25, family=ARI)
ann('Crus I', 926.7, 1334, 21.5, color=TGREEN)
ann('Lob II/III', 1005, 1334, 21.5)
ann('Lob VI', 1088, 1334, 21.5, color=RED)
pie_group([(962, 1399), (1052.5, 1399), (1009.6, 1479.5)], J_SIG, J_NS,
          [('3', 949, 1376.7, 'black'), ('8', 974.2, 1416, 'white'),
           ('4', 1032.1, 1386.1, 'black'), ('7', 1071.5, 1416, 'white'),
           ('2', 997, 1455.6, 'black'), ('13', 1015.5, 1498.9, 'white')])


def pie_legend(bx0, by0, by1, tx1, wx0, wy0, wy1, tx2, ty):
    shapes.append(dict(type='rect', xref='paper', yref='paper', x0=px(bx0), x1=px(bx0 + 24),
                       y0=py(by1), y1=py(by0), fillcolor='black', line=dict(width=0)))
    shapes.append(dict(type='rect', xref='paper', yref='paper', x0=px(wx0), x1=px(wx0 + 25),
                       y0=py(wy1), y1=py(wy0), fillcolor='white', line=dict(color='black', width=f(1.6))))
    ann('Significant', tx1, ty, 16.2)
    ann('Not significant', tx2, ty, 16.2)


pie_legend(145, 1544, 1558, 223, 283.5, 1543.5, 1559.5, 370, 1551)
pie_legend(881, 1541.6, 1556, 959.5, 1019.7, 1540, 1556.5, 1107, 1547.5)

# ====================== PANELS H / K (vector lengths) ======================


def swarm(vals, dx, dy):
    vals = np.asarray(vals, dtype=float)
    order = np.argsort(-vals)
    offs = np.zeros(len(vals))
    placed = []
    cands = [0, 0.5, -0.5, 1.0, -1.0, 1.5, -1.5]
    for i in order:
        o = 0.0
        for c in cands:
            o = c * dx
            if all(((vals[i] - vals[j]) / dy) ** 2 + ((o - offs[j]) / dx) ** 2 >= 0.55 for j in placed):
                break
        offs[i] = o
        placed.append(i)
    return offs


DOT_COLORS = ['#00cc00', '#a6a6a6', RED]


def vector_panel(x0, x1, ytop, ybot, groups, means, cat_px):
    ax = add_axes(x0, x1, ytop, ybot,
                  dict(range=[(x0 - cat_px[0]) / cat_px[1], (x1 - cat_px[0]) / cat_px[1]],
                       showline=True, linecolor='black', linewidth=f(4),
                       showticklabels=False, ticks=''),
                  dict(range=[0, 0.8], showline=True, linecolor='black', linewidth=f(3),
                       ticks='outside', ticklen=f(5), tickwidth=f(3), tickcolor='black',
                       tickvals=[0, 0.2, 0.4, 0.6, 0.8], ticktext=['0', '', '0.4', '', '0.8'],
                       tickfont=TICKFONT, ticklabelstandoff=YOUT))
    dx = 12.5 / cat_px[1]
    dy = 12.5 * 0.8 / (ybot - ytop)
    for i, (vals, col) in enumerate(zip(groups, DOT_COLORS)):
        offs = swarm(vals, dx, dy)
        fig.add_trace(go.Scatter(x=i + offs, y=vals, mode='markers',
                                 marker=dict(color=col, size=f(12), line=dict(color='black', width=f(1.1))),
                                 xaxis=ax[0], yaxis=ax[1]))
        fig.add_trace(go.Scatter(x=[i - 0.33, i + 0.33], y=[means[i], means[i]], mode='lines',
                                 line=dict(color='black', width=f(2.3)), xaxis=ax[0], yaxis=ax[1]))


ann('H', 460.7, 1318.6, 25, family=ARI)
ann('Crus I', 531, 1327, 21.5, color=TGREEN)
ann('Lob II/III', 608.6, 1327, 21.5)
ann('Lob VI', 691, 1327, 21.5, color=RED)
vector_panel(545.5, 683.7, 1349.3, 1558.6, [H_CRUS, H_LOB23, H_LOBVI], H_MEAN, (572, 41.3))
ann('Vector Length', 492, 1456, 14, family=WIDE, angle=-90)

ann('K', 1209, 1312.6, 25, family=ARI)
ann('Crus I', 1267.6, 1323.7, 21.5, color=TGREEN)
ann('Lob II/III', 1345.5, 1323.7, 21.5)
ann('Lob VI', 1427.7, 1323.7, 21.5, color=RED)
vector_panel(1281.4, 1419.6, 1345.6, 1555.6, [K_CRUS, K_LOB23, K_LOBVI], K_MEAN, (1309, 41))
ann('Vector Length', 1228, 1453, 14, family=WIDE, angle=-90)

layout['annotations'] = annotations
layout['shapes'] = shapes
fig.update_layout(**layout)
fig.write_html("out.html",
               config={'displayModeBar': False, 'staticPlot': True},
               post_script="document.body.style.margin='0px';"
                           "document.body.style.overflow='hidden';"
                           "document.documentElement.style.overflow='hidden';")
